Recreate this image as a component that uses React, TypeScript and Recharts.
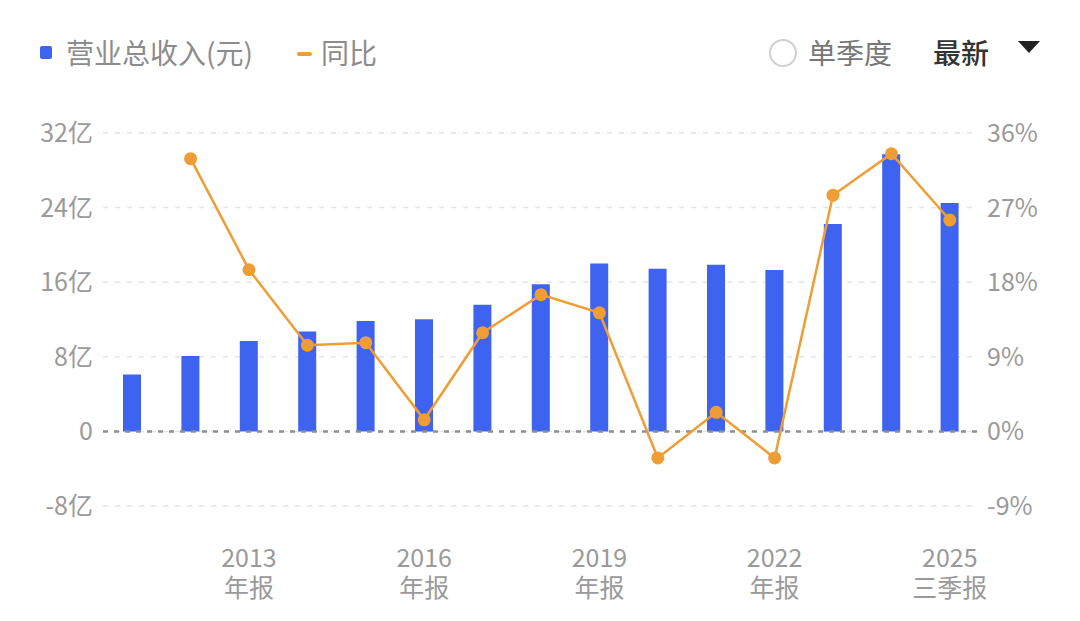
import React from 'react';
import { ComposedChart, Bar, Line, XAxis, YAxis, CartesianGrid, ReferenceLine } from 'recharts';

// report years and the kind of report for each
const years = ['2011', '2012', '2013', '2014', '2015', '2016', '2017', '2018', '2019', '2020', '2021', '2022', '2023', '2024', '2025'];
const periods = ['年报', '年报', '年报', '年报', '年报', '年报', '年报', '年报', '年报', '年报', '年报', '年报', '年报', '年报', '三季报'];

// 营业总收入, in 亿元
const revenue = [6.09, 8.09, 9.7, 10.7, 11.85, 12.03, 13.57, 15.79, 18.0, 17.43, 17.86, 17.32, 22.23, 29.71, 24.48];
// 同比, in %
const yoy = [null, 32.9, 19.5, 10.4, 10.7, 1.4, 11.9, 16.5, 14.3, -3.2, 2.3, -3.2, 28.5, 33.5, 25.5];

const leftTicks = [-8, 0, 8, 16, 24, 32];
const rightTicks = [-9, 0, 9, 18, 27, 36];
const shownYears = ['2013', '2016', '2019', '2022', '2025'];

const data = years.map((y, i) => ({
    year: y,
    period: periods[i],
    revenue: revenue[i],
    yoy: yoy[i]
}));

const FONT = '"Noto Sans CJK SC", "Noto Sans", sans-serif';
const BLUE = '#3e63f1';
const ORANGE = '#ef9d34';
const GREY = '#9a9a9a';

const LeftTick = (props: any) => {
    const { y, payload } = props;
    const label = payload.value === 0 ? '0' : payload.value + '亿';
    return (
        <text x={93} y={y} dy={9} textAnchor='end' fill={GREY} fontSize={25} fontFamily={FONT}>
            {label}
        </text>
    );
};

const RightTick = (props: any) => {
    const { y, payload } = props;
    return (
        <text x={987} y={y} dy={9} textAnchor='start' fill={GREY} fontSize={25} fontFamily={FONT}>
            {payload.value + '%'}
        </text>
    );
};

const YearTick = (props: any) => {
    const { x, payload, index } = props;
    if (!shownYears.includes(payload.value)) return null;
    return (
        <g>
            <text x={x} y={567} textAnchor='middle' fill={GREY} fontSize={25} fontFamily={FONT}>
                {payload.value}
            </text>
            <text x={x} y={597} textAnchor='middle' fill={GREY} fontSize={25} fontFamily={FONT}>
                {periods[index]}
            </text>
        </g>
    );
};

export default function App() {
    return (
        <div style={{ position: 'absolute', left: 0, top: 0, width: 1080, height: 621, background: '#fff', fontFamily: FONT }}>
            {/* legend row */}
            <div style={{ position: 'absolute', left: 40, top: 46, width: 12, height: 13, borderRadius: 2, background: BLUE }} />
            <div style={{ position: 'absolute', left: 66, top: 32, fontSize: 28, color: '#8c8c8c', lineHeight: '40px' }}>营业总收入(元)</div>
            <div style={{ position: 'absolute', left: 297, top: 52, width: 15, height: 4, borderRadius: 2, background: ORANGE }} />
            <div style={{ position: 'absolute', left: 321, top: 32, fontSize: 28, color: '#8c8c8c', lineHeight: '40px' }}>同比</div>

            <div style={{ position: 'absolute', left: 769, top: 39, width: 28, height: 28, borderRadius: '50%', border: '2px solid #d0d0d0', boxSizing: 'border-box' }} />
            <div style={{ position: 'absolute', left: 808, top: 32, fontSize: 28, color: '#777', lineHeight: '40px' }}>单季度</div>
            <div style={{ position: 'absolute', left: 933, top: 32, fontSize: 28, color: '#333', fontWeight: 500, lineHeight: '40px' }}>最新</div>
            <svg style={{ position: 'absolute', left: 1017, top: 40 }} width={24} height={14}>
                <polygon points='1,1 23,1 12,13' fill='#222' />
            </svg>

            <ComposedChart
                width={1080}
                height={621}
                data={data}
                margin={{ top: 133, right: 0, bottom: 0, left: 0 }}
            >
                <CartesianGrid yAxisId='left' vertical={false} stroke='#e4e4e4' strokeDasharray='5 7' strokeWidth={1.5} />
                <XAxis
                    dataKey='year'
                    height={115}
                    axisLine={false}
                    tickLine={false}
                    interval={0}
                    tick={<YearTick />}
                />
                <YAxis
                    yAxisId='left'
                    orientation='left'
                    width={103}
                    domain={[-8, 32]}
                    ticks={leftTicks}
                    axisLine={false}
                    tickLine={false}
                    tick={<LeftTick />}
                />
                <YAxis
                    yAxisId='right'
                    orientation='right'
                    width={101}
                    domain={[-9, 36]}
                    ticks={rightTicks}
                    axisLine={false}
                    tickLine={false}
                    tick={<RightTick />}
                />
                <ReferenceLine yAxisId='left' y={0} stroke='#8f8f8f' strokeDasharray='5 6' strokeWidth={2.5} />
                <Bar yAxisId='left' dataKey='revenue' fill={BLUE} barSize={18} isAnimationActive={false} />
                <Line
                    yAxisId='right'
                    dataKey='yoy'
                    stroke={ORANGE}
                    strokeWidth={2.5}
                    dot={{ r: 6.5, fill: ORANGE, stroke: ORANGE, strokeWidth: 0 }}
                    activeDot={false}
                    isAnimationActive={false}
                />
            </ComposedChart>
        </div>
    );
}
